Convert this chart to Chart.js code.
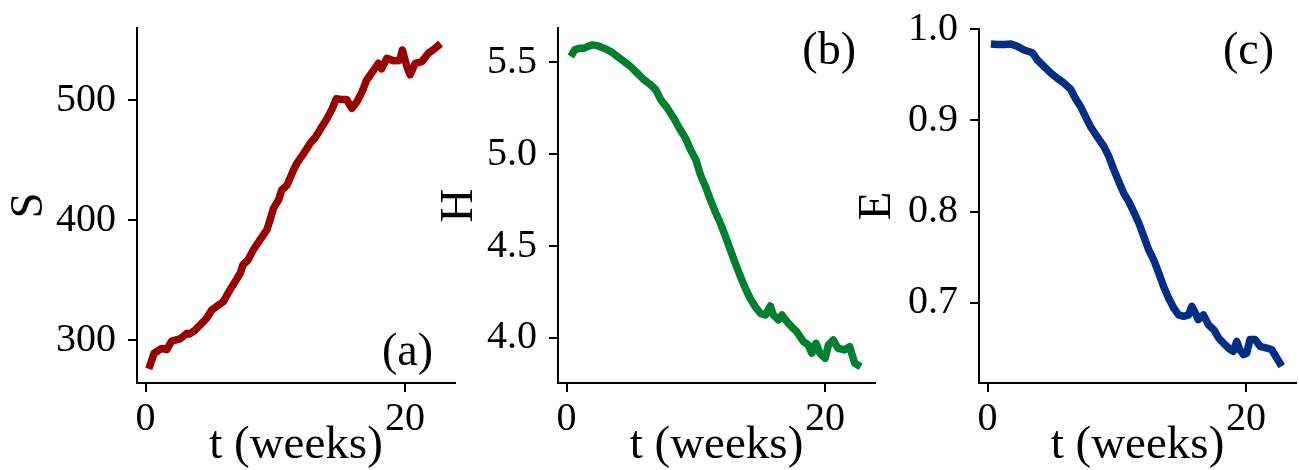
<!DOCTYPE html>
<html>
<head>
<meta charset="utf-8">
<script src="https://cdn.jsdelivr.net/npm/chart.js@4.4.1/dist/chart.umd.min.js"></script>
<style>
  html, body { margin: 0; padding: 0; background: #fff; overflow: hidden; }
  body { width: 1299px; height: 470px; position: relative; }
  canvas { position: absolute; top: 0; }
</style>
</head>
<body>
<canvas id="chartS" width="460" height="480" style="left:0px"></canvas>
<canvas id="chartH" width="460" height="480" style="left:421px"></canvas>
<canvas id="chartE" width="457" height="480" style="left:842px"></canvas>
<script>
// species count S over time
const weeksS = [0.25, 0.66, 1.25, 1.63, 2.0, 2.66, 3.2, 3.4, 3.8, 4.2, 4.7, 5.1, 5.6, 6.0, 6.5, 6.9,
  7.3, 7.5, 7.9, 8.3, 8.8, 9.35, 9.6, 9.86, 10.25, 10.5, 10.9, 11.3, 11.65, 12.2, 12.7, 13.1,
  13.5, 14.0, 14.4, 14.7, 15.1, 15.5, 15.9, 16.3, 16.7, 17.05, 17.6, 17.95, 18.2, 18.6, 19.1,
  19.6, 19.8, 20.15, 20.4, 20.8, 21.3, 21.8, 22.2, 22.75];
const valuesS = [276, 289, 293, 292, 299, 301, 305.6, 305, 308, 312.5, 318, 325, 329, 332, 341.7, 348.6,
  355.6, 362.5, 366.7, 375, 383, 391.7, 400, 409.7, 416.7, 425, 429, 439, 447, 455.6, 464, 469,
  476, 484.7, 493, 501, 500.5, 500.5, 493, 498.6, 507, 516.7, 525, 530.6, 526, 534.7, 532.8,
  533, 541.7, 527.8, 521, 530.6, 532, 539, 542, 547];

// entropy H over time
const weeksH = [0.33, 0.64, 0.98, 1.36, 1.62, 2.0, 2.39, 2.9, 3.42, 3.93, 4.45, 4.96, 5.48, 6.0, 6.5,
  6.9, 7.3, 7.8, 8.3, 8.8, 9.2, 9.6, 10.0, 10.36, 10.75, 11.13, 11.5, 11.9, 12.3, 12.67, 13.06,
  13.45, 13.83, 14.2, 14.6, 15.0, 15.4, 15.76, 16.0, 16.4, 16.66, 17.04, 17.4, 17.8, 18.33,
  18.7, 18.97, 19.3, 19.6, 20.0, 20.26, 20.64, 21.0, 21.5, 21.9, 22.3, 22.75];
const valuesH = [5.531, 5.567, 5.576, 5.576, 5.585, 5.594, 5.59, 5.576, 5.558, 5.531, 5.504, 5.476,
  5.44, 5.404, 5.377, 5.35, 5.295, 5.25, 5.195, 5.132, 5.087, 5.023, 4.969, 4.887, 4.823, 4.751,
  4.687, 4.624, 4.551, 4.479, 4.406, 4.334, 4.27, 4.216, 4.17, 4.134, 4.125, 4.174, 4.125, 4.098,
  4.125, 4.089, 4.062, 4.034, 3.98, 3.962, 3.917, 3.971, 3.917, 3.889, 3.962, 3.989, 3.944,
  3.935, 3.953, 3.862, 3.844];

// evenness E over time
const weeksE = [0.26, 0.77, 1.29, 1.8, 2.3, 2.83, 3.47, 3.86, 4.37, 4.88, 5.4, 5.9, 6.43, 6.8, 7.2,
  7.58, 7.97, 8.48, 9.0, 9.38, 9.77, 10.15, 10.54, 10.93, 11.3, 11.7, 12.08, 12.47, 12.85, 13.24,
  13.62, 14.0, 14.4, 14.78, 15.17, 15.55, 15.8, 16.07, 16.3, 16.7, 17.1, 17.5, 17.87, 18.25,
  18.77, 19.0, 19.28, 19.5, 19.8, 20.05, 20.3, 20.7, 21.08, 21.6, 21.98, 22.36, 22.75];
const valuesE = [0.9836, 0.983, 0.983, 0.9836, 0.981, 0.977, 0.974, 0.966, 0.959, 0.952, 0.946,
  0.941, 0.934, 0.924, 0.915, 0.904, 0.893, 0.882, 0.8715, 0.8606, 0.846, 0.833, 0.82, 0.811,
  0.8, 0.7876, 0.773, 0.758, 0.7474, 0.733, 0.718, 0.7055, 0.6945, 0.687, 0.6854, 0.687, 0.6964,
  0.689, 0.6818, 0.687, 0.676, 0.6708, 0.6617, 0.656, 0.649, 0.647, 0.658, 0.649, 0.6434, 0.645,
  0.66, 0.66, 0.6526, 0.6507, 0.649, 0.64, 0.6307];

const yTicksS = [300, 400, 500];
const yTicksH = [4.0, 4.5, 5.0, 5.5];
const yTicksE = [0.7, 0.8, 0.9, 1.0];
const xTicks = [0, 20];

const SERIF = "'Liberation Serif', 'DejaVu Serif', serif";
Chart.defaults.font.family = SERIF;
Chart.defaults.color = '#000';

// panel tag like "(a)" drawn inside the plot area
function panelTag(text, corner, dx, dy) {
  return {
    id: 'panelTag',
    afterDraw(chart) {
      const { ctx, chartArea } = chart;
      ctx.save();
      ctx.font = `46px ${SERIF}`;
      ctx.fillStyle = '#000';
      ctx.textAlign = 'right';
      ctx.textBaseline = 'alphabetic';
      const y = corner === 'bottom' ? chartArea.bottom - dy : chartArea.top + dy;
      ctx.fillText(text, chartArea.right - dx, y);
      ctx.restore();
    }
  };
}

function makePanel(id, cfg) {
  const points = cfg.weeks.map((w, i) => ({ x: w, y: cfg.values[i] }));
  const axisLine = { display: true, color: '#000', width: 2 };
  const tickMarks = { drawOnChartArea: false, drawTicks: true, tickLength: 9, color: '#000', lineWidth: 2 };

  return new Chart(document.getElementById(id), {
    type: 'line',
    data: {
      datasets: [{
        data: points,
        borderColor: cfg.color,
        borderWidth: 7.5,
        borderJoinStyle: 'round',
        pointRadius: 0,
        tension: 0,
        fill: false
      }]
    },
    options: {
      responsive: false,
      animation: false,
      layout: { padding: { left: 0, right: cfg.padRight, top: cfg.padTop, bottom: 0 } },
      plugins: { legend: { display: false }, tooltip: { enabled: false } },
      scales: {
        x: {
          type: 'linear',
          min: -0.66,
          max: 23.86,
          border: axisLine,
          grid: tickMarks,
          afterFit: s => { s.height = 480 - 383; s.paddingLeft = 0; s.paddingRight = 0; },
          afterBuildTicks: s => { s.ticks = xTicks.map(v => ({ value: v })); },
          ticks: { font: { size: 40 }, padding: 3, maxRotation: 0 },
          title: { display: true, text: 't (weeks)', font: { size: 47 }, padding: { top: 0, bottom: 6 } }
        },
        y: {
          type: 'linear',
          min: cfg.yMin,
          max: cfg.yMax,
          border: axisLine,
          grid: tickMarks,
          // fixed axis width; label overhang must not push the plot area down
          afterFit: s => { s.width = 137; s.paddingTop = 0; s.paddingBottom = 0; },
          afterBuildTicks: s => { s.ticks = cfg.yTicks.map(v => ({ value: v })); },
          ticks: { font: { size: 40 }, padding: 12, callback: cfg.fmt },
          title: { display: true, text: cfg.label, font: { size: 47 }, padding: { top: cfg.titlePad, bottom: 0 } }
        }
      }
    },
    plugins: [panelTag(cfg.tag, cfg.tagCorner, cfg.tagDx, cfg.tagDy)]
  });
}

makePanel('chartS', {
  weeks: weeksS, values: valuesS, color: '#990000', label: 'S',
  yMin: 264.2, yMax: 560, yTicks: yTicksS, fmt: v => String(v),
  padRight: 5, padTop: 28, titlePad: 1,
  tag: '(a)', tagCorner: 'bottom', tagDx: 22, tagDy: 18
});

makePanel('chartH', {
  weeks: weeksH, values: valuesH, color: '#007F2E', label: 'H',
  yMin: 3.755, yMax: 5.686, yTicks: yTicksH, fmt: v => v.toFixed(1),
  padRight: 6, padTop: 28, titlePad: 10,
  tag: '(b)', tagCorner: 'top', tagDx: 19, tagDy: 36
});

makePanel('chartE', {
  weeks: weeksE, values: valuesE, color: '#002D86', label: 'E',
  yMin: 0.6124, yMax: 1.0, yTicks: yTicksE, fmt: v => v.toFixed(1),
  padRight: 3, padTop: 29, titlePad: 7,
  tag: '(c)', tagCorner: 'top', tagDx: 22, tagDy: 35
});
</script>
</body>
</html>
